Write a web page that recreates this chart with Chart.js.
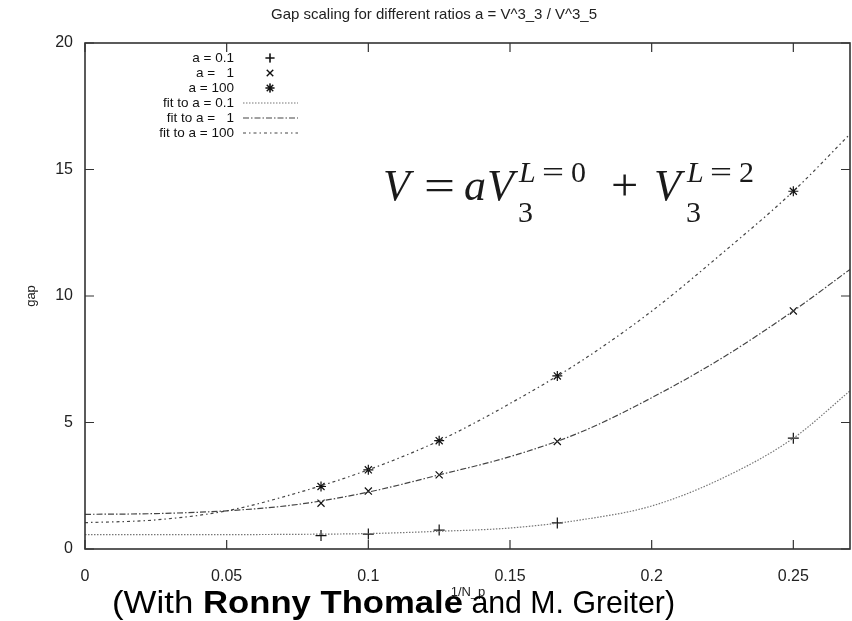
<!DOCTYPE html>
<html>
<head>
<meta charset="utf-8">
<script src="https://cdn.jsdelivr.net/npm/chart.js@4/dist/chart.umd.min.js"></script>
<style>
  html, body { margin: 0; padding: 0; background: #fff; }
  #wrap { width: 852px; height: 621px; position: relative; }
</style>
</head>
<body>
<div id="wrap"><canvas id="gapChart" width="852" height="621"></canvas></div>
<script>
// --- measured gaps vs 1/N_p ---
const invN = [0.0833, 0.1, 0.125, 0.1667, 0.25];
const gapA01 = [0.53, 0.59, 0.75, 1.03, 4.38];
const gapA1 = [1.81, 2.29, 2.93, 4.25, 9.41];
const gapA100 = [2.47, 3.13, 4.28, 6.84, 14.14];

// --- fitted curves, sampled along 1/N_p ---
const fitX = [0, 0.025, 0.05, 0.075, 0.1, 0.125, 0.15, 0.175, 0.2, 0.225, 0.25, 0.27];
const fitA01 = [0.57, 0.57, 0.57, 0.58, 0.61, 0.70, 0.83, 1.15, 1.70, 2.80, 4.38, 6.25];
const fitA1 = [1.37, 1.40, 1.51, 1.76, 2.25, 2.93, 3.65, 4.62, 5.98, 7.56, 9.41, 11.05];
const fitA100 = [1.04, 1.15, 1.51, 2.22, 3.13, 4.28, 5.75, 7.42, 9.40, 11.70, 14.14, 16.4];

const xTicks = [0, 0.05, 0.1, 0.15, 0.2, 0.25];
const yTicks = [0, 5, 10, 15, 20];

const legendRows = [
  { text: 'a = 0.1', marker: 'cross' },
  { text: 'a =   1', marker: 'crossRot' },
  { text: 'a = 100', marker: 'star' },
  { text: 'fit to a = 0.1', dash: [1.5, 1.5], color: '#777' },
  { text: 'fit to a =   1', dash: [6, 2, 1.5, 2], color: '#444' },
  { text: 'fit to a = 100', dash: [3, 3, 1.5, 3], color: '#444' }
];

const pts = (xs, ys) => xs.map((x, i) => ({ x: x, y: ys[i] }));
const SANS = '"Liberation Sans", Arial, sans-serif';
const SERIF = '"Liberation Serif", "DejaVu Serif", serif';

function markerSet(label, data, style, r) {
  return {
    type: 'scatter', label, data: pts(invN, data),
    pointStyle: style, pointRadius: r, pointBorderColor: '#111',
    pointBackgroundColor: '#111', pointBorderWidth: 1.2, showLine: false
  };
}

function fitSet(label, data, dash, color) {
  return {
    type: 'line', label, data: pts(fitX, data),
    borderColor: color, borderWidth: 1.2, borderDash: dash,
    pointRadius: 0, fill: false, cubicInterpolationMode: 'monotone'
  };
}

// pieces of the formula V = aV_3^{L=0} + V_3^{L=2}: [text, font, x, baseline, stretch]
const big = '44px ' + SERIF, bigIt = 'italic 44px ' + SERIF;
const sm = '30px ' + SERIF, smIt = 'italic 30px ' + SERIF;
const formula = [
  ['V', bigIt, 383, 200, 1],
  ['=', big, 424, 200, 1.25],
  ['a', bigIt, 464, 200, 1],
  ['V', bigIt, 487, 200, 1],
  ['3', sm, 518, 222, 1],
  ['L', smIt, 519, 182, 1],
  ['=', sm, 542, 182, 1.3],
  ['0', sm, 571, 182, 1],
  ['+', big, 611, 200, 1.1],
  ['V', bigIt, 654, 200, 1],
  ['3', sm, 686, 222, 1],
  ['L', smIt, 687, 182, 1],
  ['=', sm, 710, 182, 1.3],
  ['2', sm, 739, 182, 1]
];

// credit line pieces: [text, weight, left, right]
const credit = [
  ['(With ', '', 112, 203],
  ['Ronny Thomale', 'bold ', 203, 463],
  [' and M. Greiter)', '', 463, 675]
];

// frame, inner ticks, legend, formula and captions
const decorations = {
  id: 'decorations',
  afterDraw(chart) {
    const ctx = chart.ctx;
    const a = chart.chartArea;
    const xs = chart.scales.x, ys = chart.scales.y;
    ctx.save();
    ctx.strokeStyle = '#333';
    ctx.lineWidth = 1.6;
    ctx.strokeRect(a.left, a.top, a.right - a.left, a.bottom - a.top);
    ctx.lineWidth = 1.2;
    ctx.beginPath();
    xTicks.forEach(v => {
      const px = xs.getPixelForValue(v);
      ctx.moveTo(px, a.bottom); ctx.lineTo(px, a.bottom - 9);
      ctx.moveTo(px, a.top); ctx.lineTo(px, a.top + 9);
    });
    yTicks.forEach(v => {
      const py = ys.getPixelForValue(v);
      ctx.moveTo(a.left, py); ctx.lineTo(a.left + 9, py);
      ctx.moveTo(a.right, py); ctx.lineTo(a.right - 9, py);
    });
    ctx.stroke();

    // legend
    ctx.font = '13.5px ' + SANS;
    ctx.fillStyle = '#111';
    ctx.textAlign = 'right';
    ctx.textBaseline = 'middle';
    legendRows.forEach((row, i) => {
      const y = 58 + i * 15;
      ctx.fillText(row.text, 234, y);
      if (row.marker) {
        ctx.strokeStyle = '#111';
        ctx.lineWidth = 1.1;
        Chart.helpers.drawPoint(ctx, { pointStyle: row.marker, radius: 4.5, borderWidth: 1.1 }, 270, y);
        ctx.stroke();
      } else {
        ctx.strokeStyle = row.color;
        ctx.lineWidth = 1.1;
        ctx.setLineDash(row.dash);
        ctx.beginPath();
        ctx.moveTo(243, y); ctx.lineTo(298, y);
        ctx.stroke();
        ctx.setLineDash([]);
      }
    });

    // formula
    ctx.textAlign = 'left';
    ctx.textBaseline = 'alphabetic';
    ctx.fillStyle = '#1a1a1a';
    formula.forEach(([t, f, x, y, sx]) => {
      ctx.save();
      ctx.font = f;
      ctx.translate(x, y);
      ctx.scale(sx, 1);
      ctx.fillText(t, 0, 0);
      ctx.restore();
    });

    // title and axis labels
    ctx.fillStyle = '#222';
    ctx.textAlign = 'center';
    ctx.textBaseline = 'middle';
    ctx.font = '15px ' + SANS;
    ctx.fillText('Gap scaling for different ratios a = V^3_3 / V^3_5', 434, 15);
    ctx.font = '13px ' + SANS;
    ctx.fillText('1/N_p', 468, 592);
    ctx.save();
    ctx.translate(31, 296);
    ctx.rotate(-Math.PI / 2);
    ctx.fillText('gap', 0, 0);
    ctx.restore();

    // credit line, each piece stretched to its span
    ctx.fillStyle = '#000';
    ctx.textAlign = 'left';
    ctx.textBaseline = 'alphabetic';
    credit.forEach(([t, b, x0, x1]) => {
      ctx.font = b + '32px ' + SANS;
      const sx = (x1 - x0) / ctx.measureText(t).width;
      ctx.save();
      ctx.translate(x0, 613);
      ctx.scale(sx, 1);
      ctx.fillText(t, 0, 0);
      ctx.restore();
    });
    ctx.restore();
  }
};

new Chart(document.getElementById('gapChart'), {
  data: {
    datasets: [
      fitSet('fit to a = 0.1', fitA01, [1.5, 1.5], '#777'),
      fitSet('fit to a = 1', fitA1, [6, 2, 1.5, 2], '#444'),
      fitSet('fit to a = 100', fitA100, [3, 3, 1.5, 3], '#444'),
      markerSet('a = 0.1', gapA01, 'cross', 5.5),
      markerSet('a = 1', gapA1, 'crossRot', 5),
      markerSet('a = 100', gapA100, 'star', 5)
    ]
  },
  options: {
    responsive: false,
    animation: false,
    layout: { autoPadding: false, padding: { top: 43, right: 2, left: 0, bottom: 0 } },
    plugins: { legend: { display: false }, tooltip: { enabled: false } },
    scales: {
      x: {
        type: 'linear', min: 0, max: 0.27,
        grid: { display: false }, border: { display: false },
        afterFit: s => { s.height = 72; s.paddingLeft = 0; s.paddingRight = 0; },
        afterBuildTicks: s => { s.ticks = xTicks.map(v => ({ value: v })); },
        ticks: {
          padding: 10, color: '#222', font: { size: 16, family: SANS },
          maxRotation: 0, autoSkip: false, callback: v => String(v)
        }
      },
      y: {
        type: 'linear', min: 0, max: 20,
        grid: { display: false, drawTicks: false }, border: { display: false },
        afterFit: s => { s.width = 85; s.paddingTop = 0; s.paddingBottom = 0; },
        afterBuildTicks: s => { s.ticks = yTicks.map(v => ({ value: v })); },
        ticks: { padding: 12, color: '#222', font: { size: 16, family: SANS } }
      }
    }
  },
  plugins: [decorations]
});
</script>
</body>
</html>
